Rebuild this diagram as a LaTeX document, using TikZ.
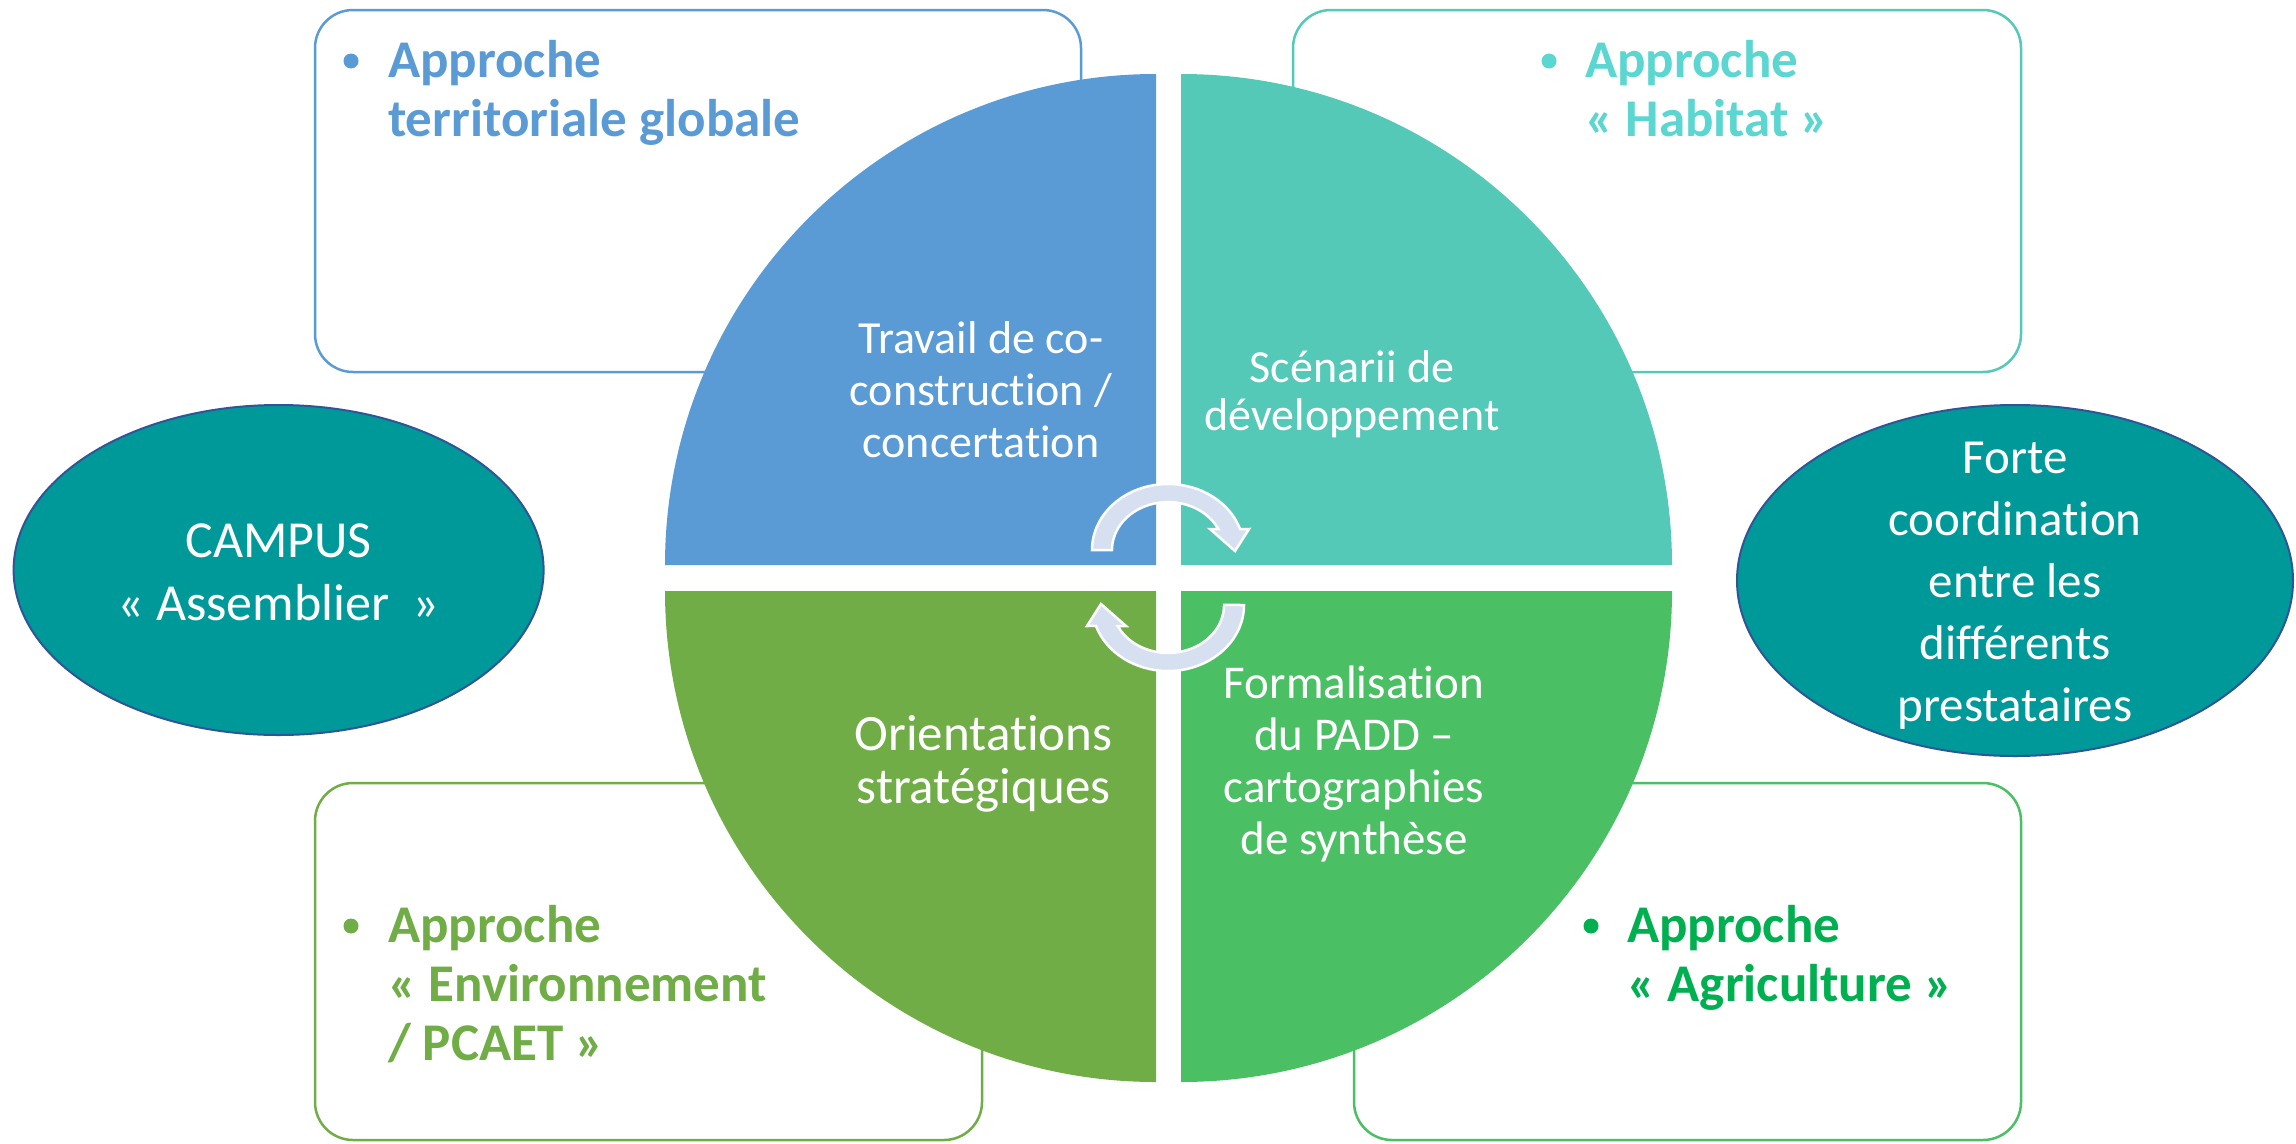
\documentclass[tikz,border=0pt]{standalone}
\usepackage{fontspec}
\setmainfont[Ligatures=NoCommon]{Carlito}
\definecolor{qblue}{RGB}{91,155,213}
\definecolor{qteal}{RGB}{84,201,184}
\definecolor{tteal}{RGB}{91,214,208}
\definecolor{qlgreen}{RGB}{112,173,71}
\definecolor{qgreen}{RGB}{74,191,100}
\definecolor{tgreen}{RGB}{0,176,80}
\definecolor{ellfill}{RGB}{0,153,153}
\definecolor{ellline}{RGB}{47,85,151}
\definecolor{arrfill}{RGB}{214,224,240}
\tikzset{
  apbox/.style={line width=2.5pt, rounded corners=38pt, fill=white},
  aptext/.style={anchor=base west, align=left, inner sep=0pt, font=\fontsize{53}{59}\selectfont\bfseries},
  intext/.style={anchor=base, align=center, inner sep=0pt, text=white},
  bul/.style={circle, inner sep=0pt, minimum size=15pt},
  ell/.style={fill=ellfill, draw=ellline, line width=2pt},
  cyc/.style={fill=arrfill, draw=white, line width=2.5pt, line join=miter}
}
\begin{document}
\begin{tikzpicture}[x=1pt,y=-1pt]
\useasboundingbox (0,0) rectangle (2296,1143);
% boxes
\draw[apbox, draw=qblue] (315,10) rectangle (1081,372);
\draw[apbox, draw=qteal] (1293,10) rectangle (2021,372);
\draw[apbox, draw=qlgreen] (315,783) rectangle (982,1140);
\draw[apbox, draw=qgreen] (1354,783) rectangle (2021,1140);
% quadrants
\fill[qblue] (1156,565) -- (665,565) arc[start angle=180, end angle=270, radius=491] -- cycle;
\fill[qteal] (1181,565) -- (1181,74) arc[start angle=270, end angle=360, radius=491] -- cycle;
\fill[qgreen] (1181,591) -- (1672,591) arc[start angle=0, end angle=90, radius=491] -- cycle;
\fill[qlgreen] (1156,591) -- (1156,1082) arc[start angle=90, end angle=180, radius=491] -- cycle;
% cycle arrows
\draw[cyc] (1092,550) arc[start angle=180, end angle=341.5, x radius=76, y radius=66]
  -- (1249,529) -- (1235,551) -- (1210,529) -- (1218.3,529)
  arc[start angle=334, end angle=180, x radius=56, y radius=48] -- cycle;
\draw[cyc, rotate around={180:(1168,577.5)}] (1092,550) arc[start angle=180, end angle=341.5, x radius=76, y radius=66]
  -- (1249,529) -- (1235,551) -- (1210,529) -- (1218.3,529)
  arc[start angle=334, end angle=180, x radius=56, y radius=48] -- cycle;
% ellipses
\draw[ell] (278.6,570) ellipse[x radius=265, y radius=165];
\draw[ell] (2015,580.5) ellipse[x radius=278, y radius=175.5];
% box texts (anchor = baseline of last line)
\node[bul, fill=qblue] (b1) at (351,61) {};
\node[aptext, text=qblue] (t1) at (388,136) {Approche\\territoriale globale};
\node[bul, fill=tteal] (b2) at (1549,61) {};
\node[aptext, text=tteal] (t2) at (1585,136) {Approche\\«~Habitat~»};
\node[bul, fill=qlgreen] (b3) at (351,926) {};
\node[aptext, text=qlgreen] (t3) at (388,1060) {Approche\\«~Environnement\\/ PCAET~»};
\node[bul, fill=tgreen] (b4) at (1591,926) {};
\node[aptext, text=tgreen] (t4) at (1627,1001) {Approche\\«~Agriculture~»};
% quadrant texts
\node[intext, font=\fontsize{46}{52}\selectfont] (q1) at (981,457) {Travail de co-\\construction /\\concertation};
\node[intext, font=\fontsize{46}{48}\selectfont] (q2) at (1352,430) {Scénarii de\\développement};
\node[intext, font=\fontsize{51}{53}\selectfont] (q3) at (983.5,803) {Orientations\\stratégiques};
\node[intext, font=\fontsize{47}{52}\selectfont] (q4) at (1354,854) {Formalisation\\du PADD –\\cartographies\\de synthèse};
% ellipse texts
\node[intext, font=\fontsize{52}{63}\selectfont] (e1) at (278.6,620) {CAMPUS\\«~Assemblier~~»};
\node[intext, font=\fontsize{49}{62}\selectfont] (e2) at (2015,721) {Forte\\coordination\\entre les\\différents\\prestataires};
\end{tikzpicture}
\end{document}
